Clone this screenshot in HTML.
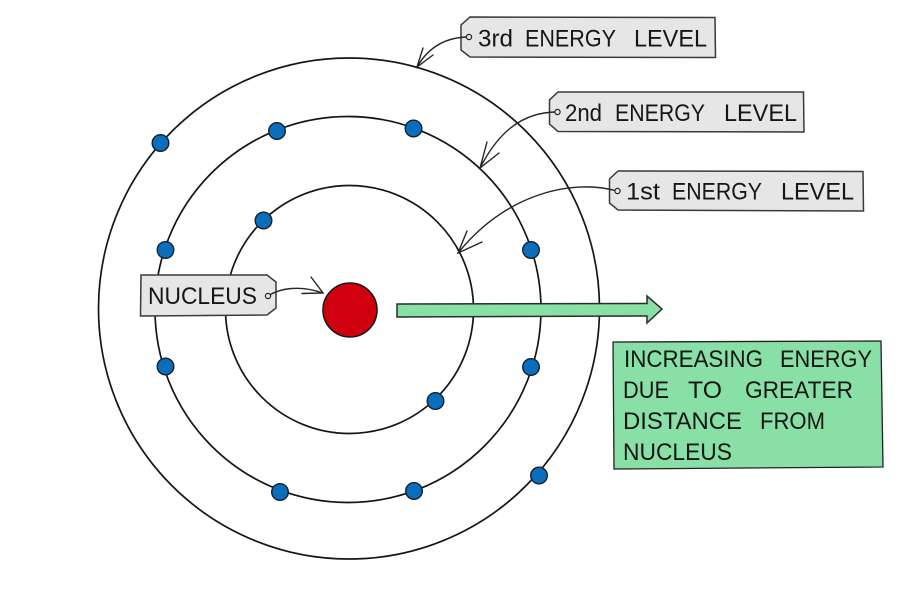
<!DOCTYPE html>
<html>
<head>
<meta charset="utf-8">
<style>
html,body{margin:0;padding:0;background:#fff;width:906px;height:592px;overflow:hidden}
svg{display:block}
text{font-family:"Liberation Sans","DejaVu Sans",sans-serif;font-size:24px;fill:#161616}
</style>
</head>
<body>
<svg width="906" height="592" viewBox="0 0 906 592" xmlns="http://www.w3.org/2000/svg">
<g fill="none" stroke="#161616" stroke-width="1.700">
<circle cx="349" cy="308.500" r="250.500"/>
<circle cx="348" cy="309.500" r="193"/>
<circle cx="349.500" cy="309.500" r="124"/>
</g>

<g fill="#0a6ebd" stroke="#14202c" stroke-width="1.400">
<circle cx="160.500" cy="143" r="8.300"/>
<circle cx="277" cy="131" r="8.300"/>
<circle cx="413.500" cy="128.500" r="8.300"/>
<circle cx="531" cy="250" r="8.300"/>
<circle cx="531" cy="367" r="8.300"/>
<circle cx="165.500" cy="250" r="8.300"/>
<circle cx="165.500" cy="366.500" r="8.300"/>
<circle cx="263.500" cy="220.500" r="8.300"/>
<circle cx="435.500" cy="401" r="8.300"/>
<circle cx="280" cy="492" r="8.300"/>
<circle cx="414" cy="491" r="8.300"/>
<circle cx="539" cy="475.500" r="8.300"/>
</g>

<circle cx="350" cy="310" r="27" fill="#d0000f" stroke="#1a1a1a" stroke-width="1.600"/>

<polygon points="397,304 647,303.500 647,296 662,309 647,323 647,316 397,317" fill="#88e0a6" stroke="#2b2b2b" stroke-width="1.500"/>

<polygon points="613,342 881,341 883,467 614,469" fill="#88e0a6" stroke="#222" stroke-width="1.300"/>
<g lengthAdjust="spacingAndGlyphs">
<text x="624" y="367" textLength="139" lengthAdjust="spacingAndGlyphs">INCREASING</text>
<text x="780" y="367" textLength="92" lengthAdjust="spacingAndGlyphs">ENERGY</text>
<text x="623" y="398" textLength="46" lengthAdjust="spacingAndGlyphs">DUE</text>
<text x="688" y="398" textLength="34" lengthAdjust="spacingAndGlyphs">TO</text>
<text x="745" y="398" textLength="108" lengthAdjust="spacingAndGlyphs">GREATER</text>
<text x="623" y="429" textLength="119" lengthAdjust="spacingAndGlyphs">DISTANCE</text>
<text x="760" y="429" textLength="65" lengthAdjust="spacingAndGlyphs">FROM</text>
<text x="623" y="460" textLength="109" lengthAdjust="spacingAndGlyphs">NUCLEUS</text>
</g>

<g fill="#e6e6e6" stroke="#3a3a3a" stroke-width="1.500">
<polygon points="470,17 715,17.500 715.500,57.500 470,57 461,50 461,25"/>
<polygon points="558,92 803.500,92 804,132 558,131.500 549.500,124 549.500,100"/>
<polygon points="618,171 863,171.500 863.500,211 618,210 609.500,203 609.500,179"/>
<polygon points="141,275 267,275 276,282 276,308 267,315 140.500,316"/>
</g>

<text x="478" y="46.500" textLength="35" lengthAdjust="spacingAndGlyphs">3rd</text>
<text x="525" y="46.500" textLength="91" lengthAdjust="spacingAndGlyphs">ENERGY</text>
<text x="634" y="46.500" textLength="73" lengthAdjust="spacingAndGlyphs">LEVEL</text>
<text x="565" y="121" textLength="37" lengthAdjust="spacingAndGlyphs">2nd</text>
<text x="615" y="121" textLength="90" lengthAdjust="spacingAndGlyphs">ENERGY</text>
<text x="724" y="121" textLength="73" lengthAdjust="spacingAndGlyphs">LEVEL</text>
<text x="626" y="199.500" textLength="34" lengthAdjust="spacingAndGlyphs">1st</text>
<text x="672" y="199.500" textLength="90" lengthAdjust="spacingAndGlyphs">ENERGY</text>
<text x="781" y="199.500" textLength="73" lengthAdjust="spacingAndGlyphs">LEVEL</text>
<text x="148" y="304" textLength="109" lengthAdjust="spacingAndGlyphs">NUCLEUS</text>

<g fill="none" stroke="#262626" stroke-width="1.400" stroke-linecap="round">
<path d="M469,37 C445,37 428,48 417,67"/>
<path d="M423,48 L417,67 L433,55"/>
<path d="M557,112 C520,112 497,135 480,168"/>
<path d="M487,142 L480,168 L499,153"/>
<path d="M617,191 C570,178 505,195 458,253"/>
<path d="M467,231 L458,253 L482,242"/>
<path d="M268,296 C280,288 300,285 323,293"/>
<path d="M311,277 L323,293 L302,293.500"/>
</g>
<g fill="#e6e6e6" stroke="#222" stroke-width="1.200">
<circle cx="469" cy="37" r="2.600"/>
<circle cx="557.500" cy="112" r="2.600"/>
<circle cx="617.500" cy="191" r="2.600"/>
<circle cx="268" cy="296" r="2.600"/>
</g>
</svg>
</body>
</html>
